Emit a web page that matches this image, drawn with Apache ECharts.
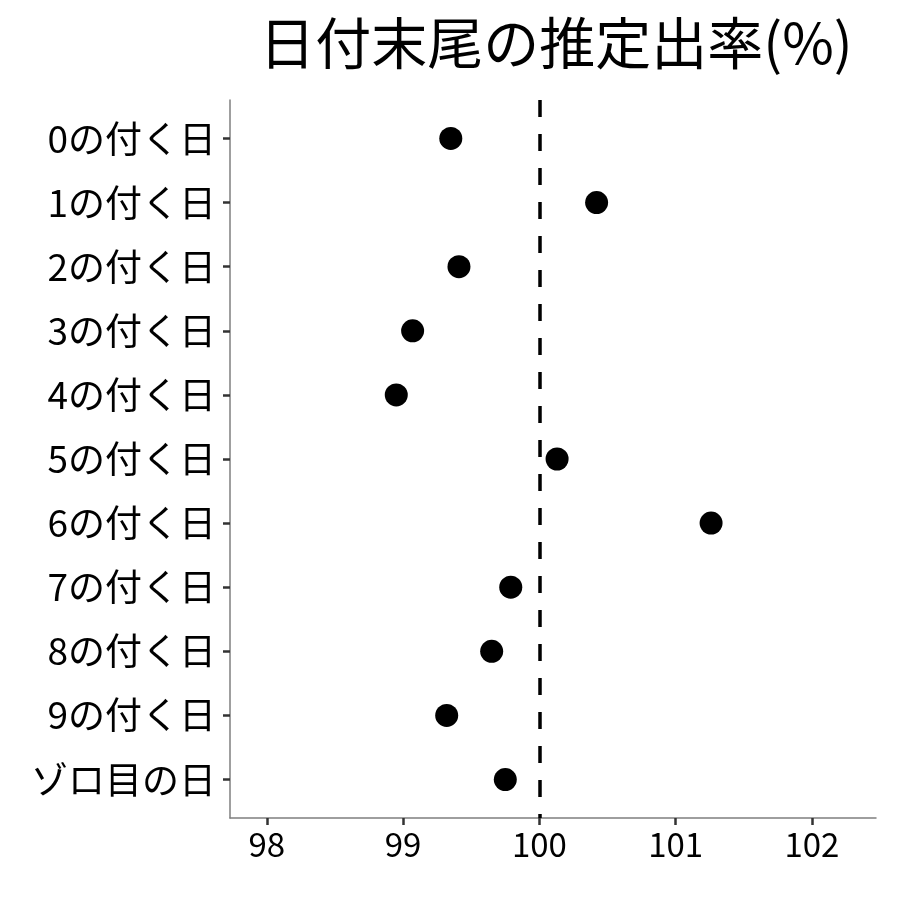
<!DOCTYPE html>
<html><head><meta charset="utf-8">
<script src="https://cdn.jsdelivr.net/npm/echarts@6/dist/echarts.min.js"></script>
<style>html,body{margin:0;padding:0;background:#fff}#c{width:900px;height:900px}</style>
</head><body><div id="c"></div>
<script>
const categories = ['0の付く日','1の付く日','2の付く日','3の付く日','4の付く日','5の付く日','6の付く日','7の付く日','8の付く日','9の付く日','ゾロ目の日'];
const rates = [99.35, 100.42, 99.41, 99.07, 98.95, 100.13, 101.26, 99.79, 99.65, 99.32, 99.75];
const xTicks = [98, 99, 100, 101, 102];
const refLine = 100;

const font = '"Noto Sans CJK JP", "Noto Sans", sans-serif';
const chart = echarts.init(document.getElementById('c'), null, {renderer: 'canvas'});
chart.setOption({
  animation: false,
  backgroundColor: '#fff',
  title: {
    text: '日付末尾の推定出率(%)',
    left: 551, top: 10, textAlign: 'center',
    textStyle: {fontFamily: font, fontSize: 56, fontWeight: 'normal', color: '#000'}
  },
  grid: {left: 230, right: 24, top: 100, bottom: 82, containLabel: false},
  xAxis: {
    type: 'value', min: 97.73, max: 102.47,
    splitLine: {show: false},
    axisLine: {show: true, onZero: false, lineStyle: {color: '#7f7f7f', width: 1.5}},
    axisTick: {show: true, customValues: xTicks, length: 7, lineStyle: {color: '#333', width: 2.5}},
    axisLabel: {customValues: xTicks, color: '#000', fontFamily: font, fontSize: 33, margin: 10}
  },
  yAxis: {
    type: 'value', inverse: true, min: -0.6, max: categories.length - 0.4,
    splitLine: {show: false},
    axisLine: {show: true, onZero: false, lineStyle: {color: '#7f7f7f', width: 1.5}},
    axisTick: {show: true, customValues: categories.map((c, i) => i), length: 7, lineStyle: {color: '#333', width: 2.5}},
    axisLabel: {customValues: categories.map((c, i) => i), formatter: v => categories[v] || '', color: '#000', fontFamily: font, fontSize: 37, margin: 14}
  },
  series: [{
    type: 'scatter',
    symbol: 'circle', symbolSize: 23,
    itemStyle: {color: '#000', opacity: 1},
    data: rates.map((v, i) => [v, i]),
    markLine: {
      silent: true, symbol: 'none', label: {show: false},
      lineStyle: {color: '#000', width: 3.5, type: [17, 17], opacity: 1},
      data: [{xAxis: refLine}]
    }
  }]
});
</script></body></html>
